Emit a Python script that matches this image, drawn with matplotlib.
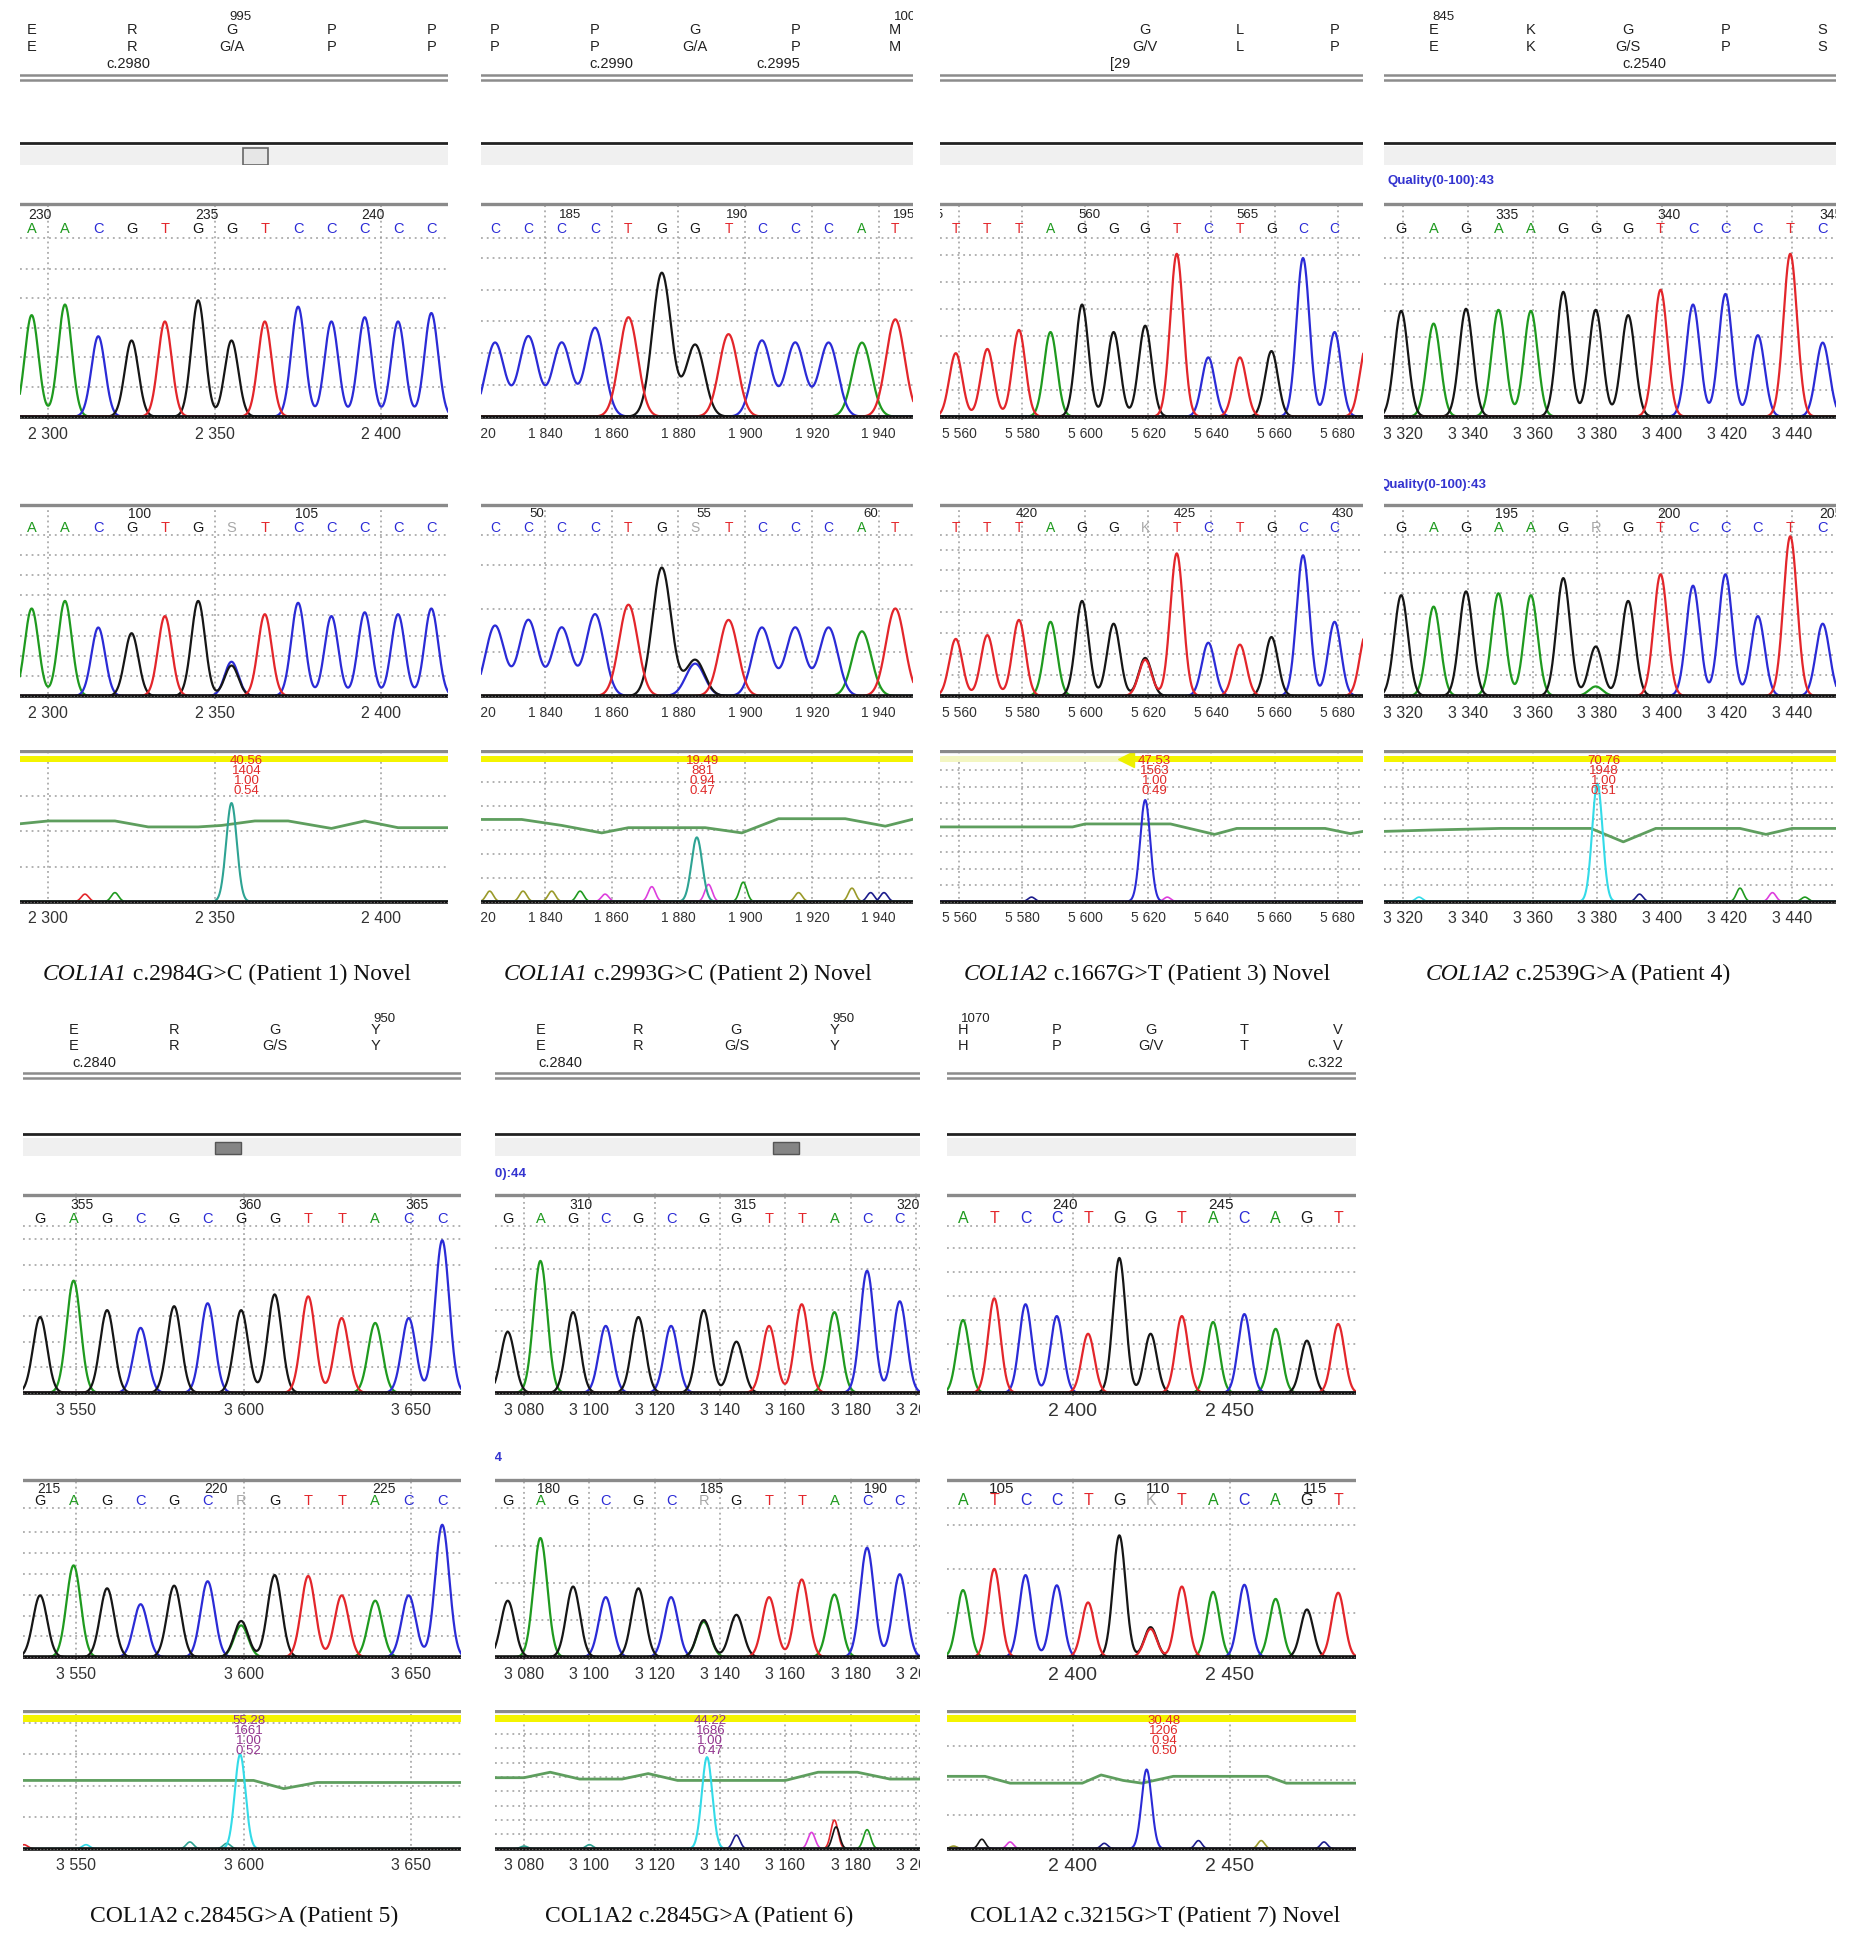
import numpy as np
import matplotlib.pyplot as plt
from matplotlib.patches import Rectangle
from matplotlib.transforms import Bbox, TransformedBbox, offset_copy, blended_transform_factory

plt.rcParams['font.family'] = ['Liberation Sans', 'DejaVu Sans']

# ---------------- data ----------------
# panel 1  COL1A1 c.2984G>C
p1_xlim = (2291.5, 2420)
p1_ticks = [2300, 2350, 2400]
p1_start, p1_step = 2295, 10
p1_calls1 = "AACGTGGTCCCCC"
p1_h1 = [48, 53, 38, 36, 45, 55, 36, 45, 52, 45, 47, 45, 49]
p1_nums1 = [(0, "230"), (5, "235"), (10, "240")]
p1_calls2 = "AACGTGSTCCCCC"
p1_trace2 = "AACGTGGTCCCCC"
p1_h2 = [46, 50, 36, 33, 42, 50, 16, 43, 49, 42, 44, 43, 46]
p1_extra2 = [(6, "C", 18)]
p1_nums2 = [(3, "100"), (8, "105")]
p1_aa_k = [0, 3, 6, 9, 12]
p1_aa_ref = ["E", "R", "G", "P", "P"]
p1_aa_alt = ["E", "R", "G/A", "P", "P"]
p1_codon = [(6, "995")]
p1_cpos = [(2.9, "c.2980")]
p1_peak = (2355, 66)
p1_qx = [2291, 2300, 2320, 2330, 2345, 2352, 2362, 2372, 2385, 2395, 2405, 2420]
p1_qy = [52, 54, 54, 50, 50, 51, 54, 54, 49, 54, 49.5, 49.5]
p1_small = [(2311, "T", 5), (2320, "A", 6)]
p1_qtext = ["40.56", "1404", "1.00", "0.54"]
p1_gene, p1_caption = "COL1A1", "c.2984G>C (Patient 1) Novel"

# panel 2  COL1A1 c.2993G>C
p2_xlim = (1820.8, 1950.3)
p2_ticks = [1820, 1840, 1860, 1880, 1900, 1920, 1940]
p2_start, p2_step = 1825, 10
p2_calls1 = "CCCCTGGTCCCAT"
p2_h1 = [35, 38, 35, 42, 47, 68, 34, 39, 36, 35, 35, 35, 46]
p2_nums1 = [(2, "185"), (7, "190"), (12, "195")]
p2_calls2 = "CCCCTGSTCCCAT"
p2_trace2 = "CCCCTGGTCCCAT"
p2_h2 = [37, 40, 36, 43, 48, 67.5, 19, 40, 36, 36, 36, 34, 46]
p2_extra2 = [(6, "C", 17)]
p2_nums2 = [(1, "50"), (6, "55"), (11, "60")]
p2_aa_k = [0, 3, 6, 9, 12]
p2_aa_ref = ["P", "P", "G", "P", "M"]
p2_aa_alt = ["P", "P", "G/A", "P", "M"]
p2_codon = [(12, "1000")]
p2_cpos = [(3.5, "c.2990"), (8.5, "c.2995")]
p2_peak = (1885.5, 43)
p2_qx = [1820, 1833, 1845, 1857, 1865, 1888, 1899, 1910, 1930, 1942, 1950]
p2_qy = [55, 55, 51, 46, 49.5, 49.5, 46, 55.5, 55.5, 50.5, 55]
p2_small = [(1823.4, "O", 7), (1833.4, "O", 7), (1842, "O", 7), (1850.5, "A", 7),
            (1858, "M", 5), (1872, "M", 10), (1889, "M", 11.5), (1899.4, "A", 13),
            (1916, "O", 6), (1932, "O", 9), (1937.6, "N", 6), (1941.6, "N", 6)]
p2_qtext = ["19.49", "881", "0.94", "0.47"]
p2_gene, p2_caption = "COL1A1", "c.2993G>C (Patient 2) Novel"

# panel 3  COL1A2 c.1667G>T
p3_xlim = (5554, 5688)
p3_ticks = [5560, 5580, 5600, 5620, 5640, 5660, 5680]
p3_start, p3_step = 5559, 10
p3_calls1 = "TTTAGGGTCTGCC"
p3_trace1 = "TTTAGGGTCTGCCT"
p3_h1 = [30, 32, 41, 40, 53, 40, 43, 77, 28, 28, 31, 75, 40, 33]
p3_nums1 = [(-1, "555"), (4, "560"), (9, "565")]
p3_calls2 = "TTTAGGKTCTGCC"
p3_trace2 = "TTTAGGGTCTGCCT"
p3_h2 = [30, 32, 40, 39, 50, 38, 20, 75, 28, 27, 31, 74, 39, 33]
p3_extra2 = [(6, "T", 19)]
p3_nums2 = [(2, "420"), (7, "425"), (12, "430")]
p3_aa_k = [6, 9, 12]
p3_aa_ref = ["G", "L", "P"]
p3_aa_alt = ["G/V", "L", "P"]
p3_codon = []
p3_cpos = [(5.2, "[29")]
p3_peak = (5619, 68)
p3_qx = [5554, 5596, 5600, 5627, 5633, 5641, 5648, 5676, 5684, 5688]
p3_qy = [50, 50, 52, 52, 49, 45, 49, 49, 45.5, 47]
p3_small = [(5583, "N", 3), (5626, "M", 3)]
p3_qtext = ["47.53", "1563", "1.00", "0.49"]
p3_gene, p3_caption = "COL1A2", "c.1667G>T (Patient 3) Novel"

# panel 4  COL1A2 c.2539G>A
p4_xlim = (3314.2, 3453.6)
p4_ticks = [3320, 3340, 3360, 3380, 3400, 3420, 3440]
p4_start, p4_step = 3319.5, 10
p4_calls1 = "GAGAAGGGTCCCTC"
p4_h1 = [50, 44, 51, 50.5, 50, 59, 50.5, 48, 60, 53, 58, 38.5, 77, 35]
p4_nums1 = [(3, "335"), (8, "340"), (13, "345")]
p4_calls2 = "GAGAAGRGTCCCTC"
p4_trace2 = "GAGAAGGGTCCCTC"
p4_h2 = [53, 47, 55, 54, 53, 62, 26, 50, 64, 58, 64, 42, 84, 38]
p4_extra2 = [(6, "A", 5)]
p4_nums2 = [(3, "195"), (8, "200"), (13, "205")]
p4_aa_k = [1, 4, 7, 10, 13]
p4_aa_ref = ["E", "K", "G", "P", "S"]
p4_aa_alt = ["E", "K", "G/S", "P", "S"]
p4_codon = [(1, "845")]
p4_cpos = [(7.5, "c.2540")]
p4_peak = (3380, 79)
p4_qx = [3314, 3330, 3350, 3378, 3388, 3398, 3424, 3432, 3440, 3454]
p4_qy = [47, 48, 49, 49, 40, 49, 49, 45, 49, 49]
p4_small = [(3325, "Y", 3), (3393, "N", 5), (3424, "A", 9), (3434, "M", 6), (3444, "A", 3)]
p4_qtext = ["70.76", "1948", "1.00", "0.51"]
p4_gene, p4_caption = "COL1A2", "c.2539G>A (Patient 4)"

# panel 5  COL1A2 c.2845G>A (patient 5)
p5_xlim = (3534.2, 3664.9)
p5_ticks = [3550, 3600, 3650]
p5_start, p5_step = 3539.3, 10
p5_calls1 = "GAGCGCGGTTACC"
p5_h1 = [38.5, 57, 42, 33, 44, 45.5, 42, 50, 49, 38, 35.5, 38, 77.5]
p5_nums1 = [(1, "355"), (6, "360"), (11, "365")]
p5_calls2 = "GAGCGCRGTTACC"
p5_trace2 = "GAGCGCGGTTACC"
p5_h2 = [35, 52, 39, 30, 40.5, 43, 20.5, 46.5, 46, 35, 32, 35, 75]
p5_extra2 = [(6, "A", 18)]
p5_nums2 = [(0, "215"), (5, "220"), (10, "225")]
p5_aa_k = [1, 4, 7, 10]
p5_aa_ref = ["E", "R", "G", "Y"]
p5_aa_alt = ["E", "R", "G/S", "Y"]
p5_codon = [(10, "950")]
p5_cpos = [(1.63, "c.2840")]
p5_peak = (3599, 69)
p5_qx = [3534, 3603, 3612, 3622, 3665]
p5_qy = [50, 50, 44, 48.5, 48.5]
p5_small = [(3534.5, "T", 3), (3553, "Y", 3), (3584, "E", 5), (3595, "E", 4)]
p5_qtext = ["55.28", "1661", "1.00", "0.52"]
p5_gene, p5_caption = "COL1A2", "c.2845G>A (Patient 5)"

# panel 6  COL1A2 c.2845G>A (patient 6)
p6_xlim = (3071.1, 3201.2)
p6_ticks = [3080, 3100, 3120, 3140, 3160, 3180, 3200]
p6_start, p6_step = 3075, 10
p6_calls1 = "GAGCGCGGTTACC"
p6_h1 = [31, 67, 41, 34, 38.5, 34, 42, 26, 34, 45, 41, 62, 46.5]
p6_nums1 = [(2, "310"), (7, "315"), (12, "320")]
p6_calls2 = "GAGCGCRGTTACC"
p6_trace2 = "GAGCGCGGTTACC"
p6_h2 = [32, 67.5, 40, 34, 39, 34, 21, 24, 34, 44, 35.5, 62, 47]
p6_extra2 = [(6, "A", 20)]
p6_nums2 = [(1, "180"), (6, "185"), (11, "190")]
p6_aa_k = [1, 4, 7, 10]
p6_aa_ref = ["E", "R", "G", "Y"]
p6_aa_alt = ["E", "R", "G/S", "Y"]
p6_codon = [(10, "950")]
p6_cpos = [(1.62, "c.2840")]
p6_peak = (3136, 67)
p6_qx = [3071, 3080, 3088, 3097, 3110, 3118, 3127, 3160, 3170, 3182, 3192, 3201]
p6_qy = [52, 52, 56, 51, 51, 55, 50, 50, 56, 56, 51, 51]
p6_small = [(3080, "E", 2), (3100, "E", 3), (3145, "N", 10), (3168, "M", 12),
            (3175, "T", 21), (3175.5, "G", 16), (3185, "A", 14)]
p6_qtext = ["44.22", "1686", "1.00", "0.47"]
p6_gene, p6_caption = "COL1A2", "c.2845G>A (Patient 6)"

# panel 7  COL1A2 c.3215G>T
p7_xlim = (2359.9, 2490.2)
p7_ticks = [2400, 2450]
p7_start, p7_step = 2365, 9.96
p7_calls1 = "ATCCTGGTACAGT"
p7_h1 = [37, 48, 45, 39, 30, 68.5, 30, 39, 36, 40, 32.5, 26.5, 35]
p7_nums1 = [(3, "240"), (8, "245")]
p7_calls2 = "ATCCTGKTACAGT"
p7_trace2 = "ATCCTGGTACAGT"
p7_h2 = [38, 50, 46.5, 40.7, 31, 69, 17, 40, 37, 41, 33, 27, 36.5]
p7_extra2 = [(6, "T", 16)]
p7_nums2 = [(1, "105"), (6, "110"), (11, "115")]
p7_aa_k = [0, 3, 6, 9, 12]
p7_aa_ref = ["H", "P", "G", "T", "V"]
p7_aa_alt = ["H", "P", "G/V", "T", "V"]
p7_codon = [(0, "1070")]
p7_cpos = [(11.6, "c.322")]
p7_peak = (2423.5, 58)
p7_qx = [2360, 2372, 2380, 2403, 2409, 2416, 2422, 2432, 2462, 2468, 2490]
p7_qy = [53, 53, 48, 48, 54, 50, 48, 53, 53, 48, 48]
p7_small = [(2362, "O", 2), (2371, "G", 7), (2380, "M", 5), (2410, "N", 4),
            (2440, "N", 6), (2460, "O", 6), (2480, "N", 5)]
p7_qtext = ["30.48", "1206", "0.94", "0.50"]
p7_gene, p7_caption = "COL1A2", "c.3215G>T (Patient 7) Novel"

panels = [
    dict(xlim=p1_xlim, ticks=p1_ticks, start=p1_start, step=p1_step,
         t1=(p1_calls1, p1_h1, p1_calls1, [], p1_nums1), t2=(p1_calls2, p1_h2, p1_trace2, p1_extra2, p1_nums2),
         aa=(p1_aa_k, p1_aa_ref, p1_aa_alt, p1_codon, p1_cpos),
         mut=(p1_peak, p1_qx, p1_qy, p1_small, p1_qtext), gene=p1_gene, caption=p1_caption),
    dict(xlim=p2_xlim, ticks=p2_ticks, start=p2_start, step=p2_step,
         t1=(p2_calls1, p2_h1, p2_calls1, [], p2_nums1), t2=(p2_calls2, p2_h2, p2_trace2, p2_extra2, p2_nums2),
         aa=(p2_aa_k, p2_aa_ref, p2_aa_alt, p2_codon, p2_cpos),
         mut=(p2_peak, p2_qx, p2_qy, p2_small, p2_qtext), gene=p2_gene, caption=p2_caption),
    dict(xlim=p3_xlim, ticks=p3_ticks, start=p3_start, step=p3_step,
         t1=(p3_calls1, p3_h1, p3_trace1, [], p3_nums1), t2=(p3_calls2, p3_h2, p3_trace2, p3_extra2, p3_nums2),
         aa=(p3_aa_k, p3_aa_ref, p3_aa_alt, p3_codon, p3_cpos),
         mut=(p3_peak, p3_qx, p3_qy, p3_small, p3_qtext), gene=p3_gene, caption=p3_caption),
    dict(xlim=p4_xlim, ticks=p4_ticks, start=p4_start, step=p4_step,
         t1=(p4_calls1, p4_h1, p4_calls1, [], p4_nums1), t2=(p4_calls2, p4_h2, p4_trace2, p4_extra2, p4_nums2),
         aa=(p4_aa_k, p4_aa_ref, p4_aa_alt, p4_codon, p4_cpos),
         mut=(p4_peak, p4_qx, p4_qy, p4_small, p4_qtext), gene=p4_gene, caption=p4_caption),
    dict(xlim=p5_xlim, ticks=p5_ticks, start=p5_start, step=p5_step,
         t1=(p5_calls1, p5_h1, p5_calls1, [], p5_nums1), t2=(p5_calls2, p5_h2, p5_trace2, p5_extra2, p5_nums2),
         aa=(p5_aa_k, p5_aa_ref, p5_aa_alt, p5_codon, p5_cpos),
         mut=(p5_peak, p5_qx, p5_qy, p5_small, p5_qtext), gene=p5_gene, caption=p5_caption),
    dict(xlim=p6_xlim, ticks=p6_ticks, start=p6_start, step=p6_step,
         t1=(p6_calls1, p6_h1, p6_calls1, [], p6_nums1), t2=(p6_calls2, p6_h2, p6_trace2, p6_extra2, p6_nums2),
         aa=(p6_aa_k, p6_aa_ref, p6_aa_alt, p6_codon, p6_cpos),
         mut=(p6_peak, p6_qx, p6_qy, p6_small, p6_qtext), gene=p6_gene, caption=p6_caption),
    dict(xlim=p7_xlim, ticks=p7_ticks, start=p7_start, step=p7_step,
         t1=(p7_calls1, p7_h1, p7_calls1, [], p7_nums1), t2=(p7_calls2, p7_h2, p7_trace2, p7_extra2, p7_nums2),
         aa=(p7_aa_k, p7_aa_ref, p7_aa_alt, p7_codon, p7_cpos),
         mut=(p7_peak, p7_qx, p7_qy, p7_small, p7_qtext), gene=p7_gene, caption=p7_caption),
]

# ---------------- layout / style ----------------
W, H = 1850, 1941
ROWS = [
    dict(top=0, num=17, aa1=30, aa2=47, cpos=64, dl=(75, 80), bl=143, band=(146, 165),
         t1=(202, 420), t2=(503, 699), t3=(750, 904), cap=974),
    dict(top=1000, num=1019, aa1=1030, aa2=1046, cpos=1063, dl=(1073, 1078), bl=1134, band=(1138, 1156),
         t1=(1193, 1396), t2=(1478, 1660), t3=(1710, 1851), cap=1916),
]
LAYOUT = [
    dict(row=0, x=(20, 448), fs=11.5, lfs=10.5, sigma=2.05, grid=(0.14, 0.106, 0.235), mch="E",
         tcol="red", toff=4.5, thumb=(0.52, 0.58, "light"), cx=227, italic=True, quality=[]),
    dict(row=0, x=(481, 913), fs=10, lfs=10, sigma=2.8, grid=(0.15, 0.23, 0.16), mch="E",
         tcol="red", toff=1.8, thumb=None, cx=688, italic=True, quality=[]),
    dict(row=0, x=(940, 1363), fs=10, lfs=10, sigma=2.05, grid=(0.127, 0.11, 0.11), mch="C",
         tcol="red", toff=3, thumb=None, cx=1147, italic=True, quality=[], split=5613),
    dict(row=0, x=(1384, 1836), fs=11.5, lfs=10.5, sigma=2.1, grid=(0.125, 0.108, 0.11), mch="Y",
         tcol="red", toff=2, thumb=None, cx=1578, italic=True,
         quality=[("Quality(0-100):43", 1388, 181, "left"), ("Quality(0-100):43", 1486, 485, "right")]),
    dict(row=1, x=(23, 461), fs=11.5, lfs=10.5, sigma=2.1, grid=(0.13, 0.118, 0.23), mch="Y",
         tcol="purple", toff=2.5, thumb=(0.438, 0.497, "dark"), cx=244, italic=False, quality=[]),
    dict(row=1, x=(495, 920), fs=11.5, lfs=10.5, sigma=2.1, grid=(0.105, 0.21, 0.105), mch="Y",
         tcol="purple", toff=1, thumb=(0.653, 0.716, "dark"), cx=699, italic=False,
         quality=[("Quality(0-100):44", 526, 1174, "right"), ("Quality(0-100):44", 502, 1458, "right")]),
    dict(row=1, x=(947, 1356), fs=14, lfs=11.5, sigma=2.0, grid=(0.123, 0.25, 0.25), mch="C",
         tcol="red", toff=5.5, thumb=None, cx=1155, italic=False, quality=[]),
]
CH = {"A": "#1f9a1f", "C": "#2b2bd6", "G": "#161616", "T": "#e3262b", "M": "#dd3fdd",
      "O": "#9a9a2a", "N": "#1c1c8c", "Y": "#33dbe8", "E": "#2ea393"}
TXT = {"red": "#e02a2a", "purple": "#93358f"}
GRID = dict(color="#9c9c9c", lw=1.1, ls=(0, (1.2, 2.6)), zorder=1)
SERIF = ["Liberation Serif", "DejaVu Serif"]

fig = plt.figure(figsize=(W / 100, H / 100), dpi=100)
renderer = fig.canvas.get_renderer()


def px_axes(x0, x1, y0, y1):
    return fig.add_axes([x0 / W, 1 - y1 / H, (x1 - x0) / W, (y1 - y0) / H])


def col_clip(x0, x1):
    return TransformedBbox(Bbox.from_extents(x0 / W, 0, x1 / W, 1), fig.transFigure)


def clip_to(txt, box):
    txt.set_clip_path(None)
    txt.set_clip_box(box)
    txt.set_clip_on(True)


def gauss(x, mu, h, s):
    return h * np.exp(-(x - mu) ** 2 / (2 * s * s))


def base_frame(ax, p, lay, grid, letters_row, clip):
    ax.set_xlim(p["xlim"])
    ax.set_ylim(-1.6, 101.5)
    ax.axis("off")
    top = 84.5 if letters_row else 96
    for gy in np.arange(grid * 100, top - 3, grid * 100):
        ax.axhline(gy, **GRID)
    if letters_row:
        ax.axhline(84.5, **GRID)
    for t in p["ticks"]:
        ax.axvline(t, color="#9c9c9c", lw=1.1, ls=(0, (1.2, 2.2)), zorder=1)
    ax.axhline(100.6, color="#8a8a8a", lw=2.4, zorder=5)
    ax.axhline(0, color="#111111", lw=2.6, zorder=6)
    ax.axhline(0, color="#777777", lw=0.8, ls=(0, (1, 2)), zorder=7)
    trans = offset_copy(ax.get_xaxis_transform(), fig=fig, y=-5, units="points")
    for t in p["ticks"]:
        txt = ax.text(t, 0, f"{t // 1000} {t % 1000:03d}", transform=trans, ha="center", va="top",
                      fontsize=lay["fs"], color="#333333")
        clip_to(txt, clip)


def trace_track(ax, p, lay, track, grid, clip):
    calls, heights, trace, extra, nums = track
    base_frame(ax, p, lay, grid, True, clip)
    pos = p["start"] + p["step"] * np.arange(len(heights))
    xs = np.linspace(p["xlim"][0] - 20, p["xlim"][1] + 20, 2600)
    for b in "ACGT":
        y = np.zeros_like(xs)
        for mu, h, tb in zip(pos, heights, trace):
            if tb == b:
                y += gauss(xs, mu, h, lay["sigma"])
        for k, eb, eh in extra:
            if eb == b:
                y += gauss(xs, pos[k], eh, lay["sigma"])
        ax.plot(xs, y, color=CH[b], lw=1.6, zorder=3)
    for k, c in enumerate(calls):
        col = CH[c] if c in "ACGT" else "#a8a8a8"
        ax.text(pos[k], 88.5, c, color=col, ha="center", va="center", fontsize=lay["lfs"], clip_on=True, zorder=4)
    for k, n in nums:
        x = p["start"] + p["step"] * k + 0.25 * p["step"]
        ax.text(x, 95.5, n, color="#222222", ha="center", va="center", fontsize=lay["lfs"] - 0.5,
                clip_on=True, zorder=4)


def mut_track(ax, p, lay, px_h, clip):
    (mx, mh), qx, qy, small, qtext = p["mut"]
    base_frame(ax, p, lay, lay["grid"][2], False, clip)
    b0 = 100 - 100 * 3.5 / px_h
    b1 = 100 - 100 * 10.5 / px_h
    x0, x1 = p["xlim"]
    if "split" in lay:
        s = lay["split"]
        ax.fill_between([x0, s], b1, b0, color="#f3f6c2", lw=0, zorder=2)
        ax.fill_between([s, x1], b1, b0, color="#f4f400", lw=0, zorder=2)
        ax.plot([s], [(b0 + b1) / 2], marker="<", ms=11, color="#eef000", zorder=2)
    else:
        ax.fill_between([x0, x1], b1, b0, color="#f4f400", lw=0, zorder=2)
    xs = np.linspace(x0 - 10, x1 + 10, 2600)
    ax.plot(qx, qy, color="#5e9e5e", lw=2.0, zorder=3)
    for sx, ch, sh in small:
        ax.plot(xs, gauss(xs, sx, sh, 1.1), color=CH[ch], lw=1.2, zorder=3)
    ax.plot(xs, gauss(xs, mx, mh, 1.6), color=CH[lay["mch"]], lw=1.5, zorder=4)
    ax.text(mx + lay["toff"], b0 + 0.5, "\n".join(qtext), color=TXT[lay["tcol"]], ha="center", va="top",
            fontsize=9.5, linespacing=0.8, zorder=8, clip_on=True)


def caption(cx, cy, gene, rest, italic):
    y = 1 - cy / H
    t1 = fig.text(0, y, gene, ha="left", va="center", fontsize=17, family=SERIF,
                  style="italic" if italic else "normal", color="#111111")
    t2 = fig.text(0, y, " " + rest, ha="left", va="center", fontsize=17, family=SERIF, color="#111111")
    w1 = t1.get_window_extent(renderer).width
    w2 = t2.get_window_extent(renderer).width
    left = cx - (w1 + w2) / 2
    t1.set_x(left / W)
    t2.set_x((left + w1) / W)


for p, lay in zip(panels, LAYOUT):
    r = ROWS[lay["row"]]
    x0, x1 = lay["x"]
    clip = col_clip(x0, x1)

    # protein / codon header
    hx = px_axes(x0, x1, r["top"], r["band"][1])
    hx.set_xlim(p["xlim"])
    hx.set_ylim(r["band"][1], r["top"])
    hx.axis("off")
    for yl in r["dl"]:
        hx.axhline(yl, color="#8c8c8c", lw=1.8)
    hx.axhline(r["bl"], color="#222222", lw=2)
    hx.axhspan(r["band"][0], r["band"][1], color="#f0f0f0", lw=0)
    if lay["thumb"]:
        f0, f1, kind = lay["thumb"]
        tr = blended_transform_factory(hx.transAxes, hx.transData)
        if kind == "light":
            hx.add_patch(Rectangle((f0, r["band"][1]), f1 - f0, r["band"][0] - r["band"][1] + 2,
                                   transform=tr, facecolor="#e6e6e6", edgecolor="#666666", lw=1.2))
        else:
            hx.add_patch(Rectangle((f0, r["band"][1] - 2), f1 - f0, r["band"][0] - r["band"][1] + 6,
                                   transform=tr, facecolor="#858585", edgecolor="#555555", lw=1))
    ks, ref, alt, codon, cpos = p["aa"]
    for k, a, b in zip(ks, ref, alt):
        x = p["start"] + p["step"] * k
        hx.text(x, r["aa1"], a, ha="center", va="center", fontsize=10.5, color="#222222", clip_on=True)
        hx.text(x, r["aa2"], b, ha="center", va="center", fontsize=10.5, color="#222222", clip_on=True)
    for k, n in codon:
        x = p["start"] + p["step"] * k - 0.05 * p["step"]
        hx.text(x, r["num"], n, ha="left", va="center", fontsize=9.5, color="#222222", clip_on=True)
    for k, lab in cpos:
        x = p["start"] + p["step"] * k
        hx.text(x, r["cpos"], lab, ha="center", va="center", fontsize=10.5, color="#222222", clip_on=True)

    # chromatograms
    a1 = px_axes(x0, x1, *r["t1"])
    trace_track(a1, p, lay, p["t1"], lay["grid"][0], clip)
    a2 = px_axes(x0, x1, *r["t2"])
    trace_track(a2, p, lay, p["t2"], lay["grid"][1], clip)
    a3 = px_axes(x0, x1, *r["t3"])
    mut_track(a3, p, lay, r["t3"][1] - r["t3"][0], clip)

    for text, qxp, qyp, ha in lay["quality"]:
        t = fig.text(qxp / W, 1 - qyp / H, text, ha=ha, va="center", fontsize=9.5, fontweight="bold",
                     color="#3434d0")
        clip_to(t, clip)

    caption(lay["cx"], r["cap"], p["gene"], p["caption"], lay["italic"])

fig.savefig("out.png", dpi=100, facecolor="white")
